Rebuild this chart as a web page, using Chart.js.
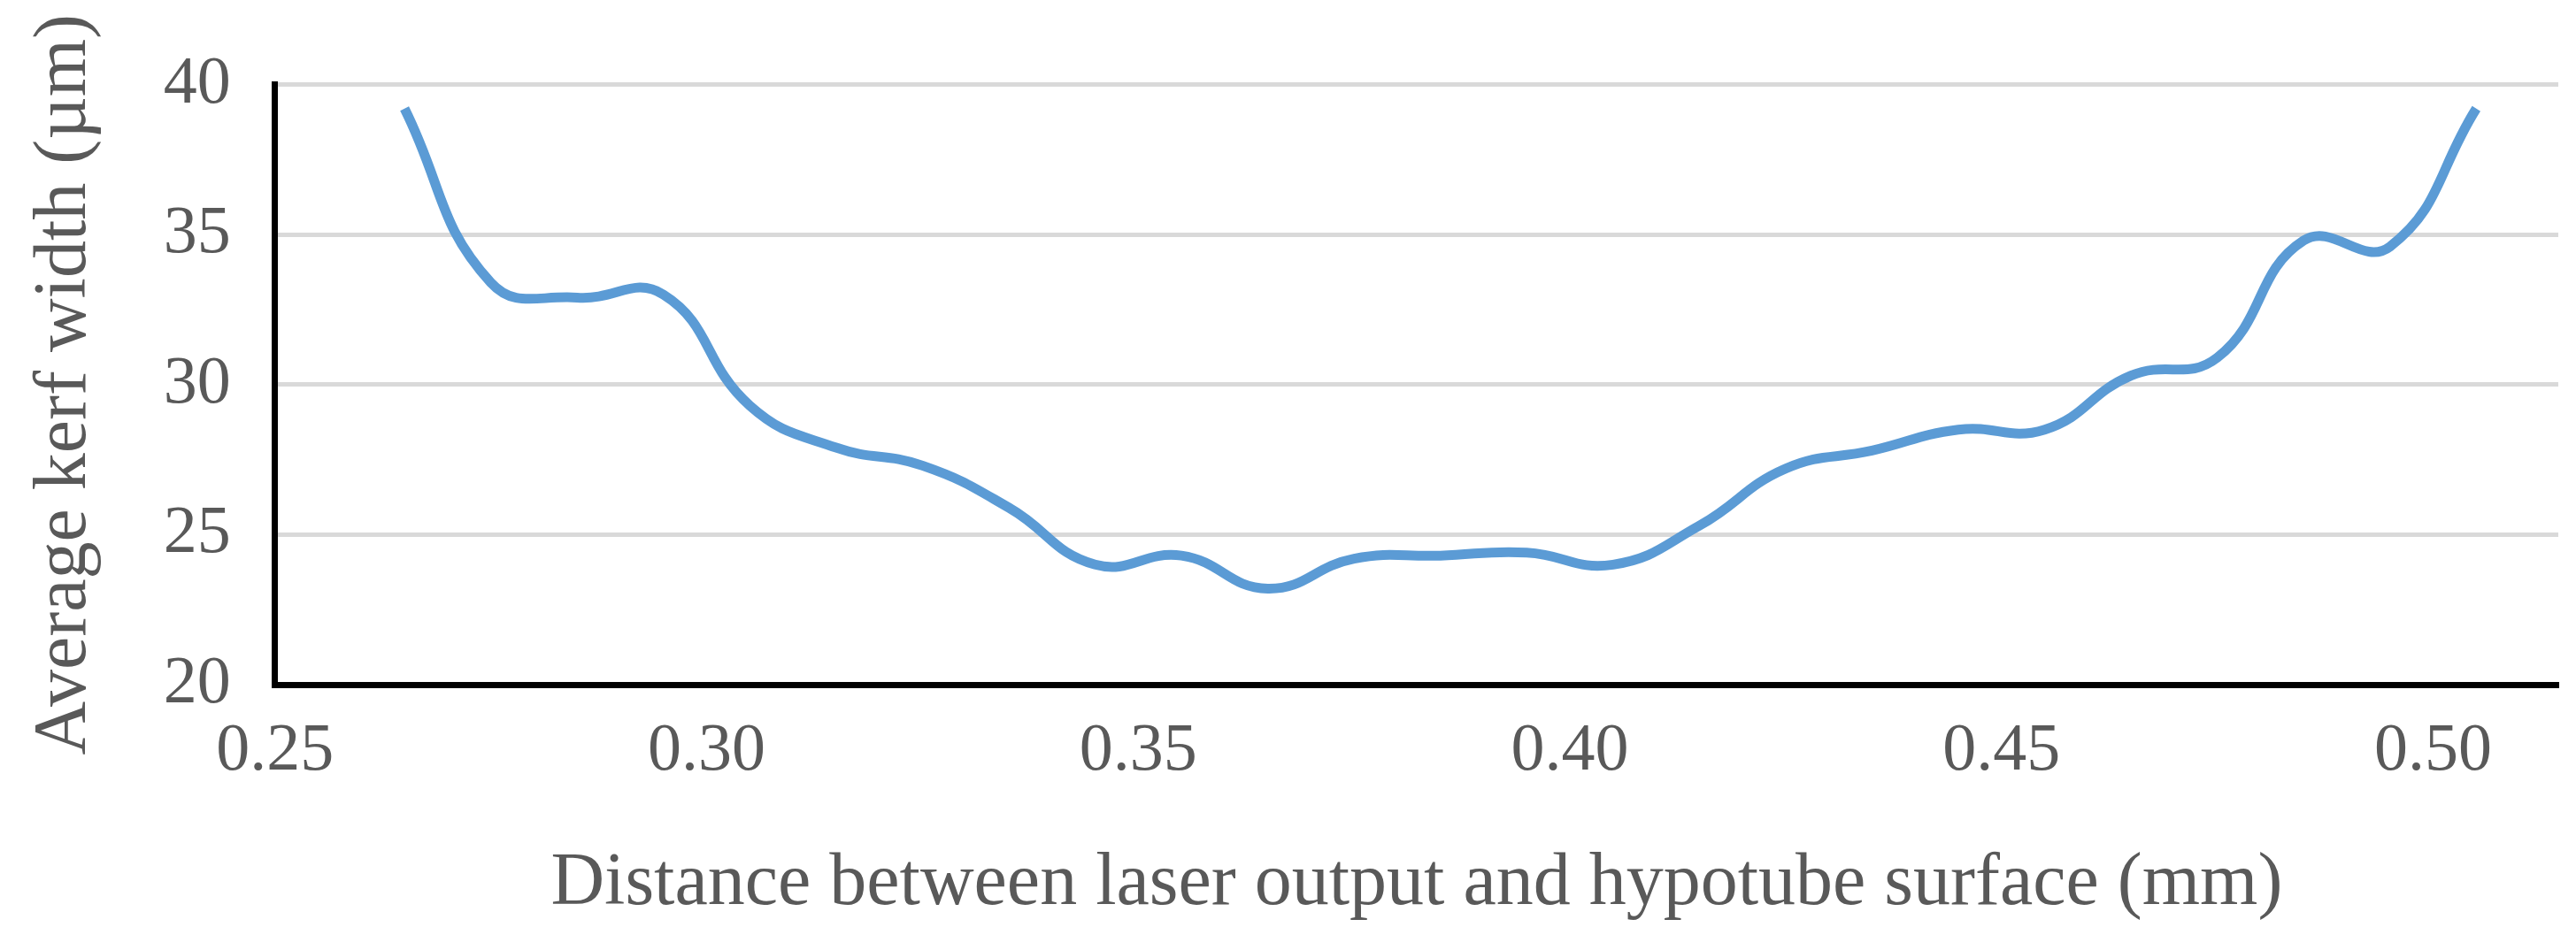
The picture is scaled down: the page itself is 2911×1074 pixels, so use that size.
<!DOCTYPE html>
<html>
<head>
<meta charset="utf-8">
<script src="https://cdn.jsdelivr.net/npm/chart.js@4/dist/chart.umd.min.js"></script>
<style>
html, body { margin: 0; padding: 0; background: #fff; }
#wrap { width: 2911px; height: 1074px; }
</style>
</head>
<body>
<div id="wrap"><canvas id="chartCanvas" width="2911" height="1074"></canvas></div>
<script>
const distances = [0.265, 0.275, 0.285, 0.295, 0.305, 0.315, 0.325, 0.335, 0.345, 0.355, 0.365, 0.375, 0.385,
    0.395, 0.405, 0.415, 0.425, 0.435, 0.445, 0.455, 0.465, 0.475, 0.485, 0.495, 0.505];
const kerfWidths = [39.2, 33.4, 32.9, 33.0, 29.3, 27.9, 27.3, 25.9, 24.0, 24.3, 23.2, 24.2, 24.3,
    24.4, 24.0, 25.3, 27.2, 27.8, 28.5, 28.5, 30.3, 30.9, 34.8, 34.6, 39.2];
const xTicks = [0.25, 0.30, 0.35, 0.40, 0.45, 0.50];

const ctx = document.getElementById("chartCanvas").getContext("2d");
const font = "'Liberation Serif', 'Times New Roman', serif";

new Chart(ctx, {
    type: "line",
    data: {
        datasets: [{
            data: distances.map((d, i) => ({ x: d, y: kerfWidths[i] })),
            borderColor: "#5b9bd5",
            borderWidth: 11,
            pointRadius: 0,
            tension: 0.45,
            fill: false,
        }],
    },
    options: {
        responsive: false,
        devicePixelRatio: 1,
        animation: false,
        layout: { padding: { top: 52, right: 20, left: 20, bottom: 20 } },
        plugins: { legend: { display: false }, tooltip: { enabled: false } },
        scales: {
            x: {
                type: "linear",
                min: 0.25,
                max: 0.5145,
                afterBuildTicks: axis => { axis.ticks = xTicks.map(v => ({ value: v })); },
                grid: { display: false, drawTicks: false },
                border: { color: "#000", width: 7 },
                ticks: { color: "#595959", font: { family: font, size: 76 }, padding: 30,
                    callback: v => v.toFixed(2) },
                title: { display: true, text: "Distance between laser output and hypotube surface (mm)",
                    color: "#595959", font: { family: font, size: 84 }, padding: { top: 24 } },
            },
            y: {
                min: 20,
                max: 40,
                ticks: { stepSize: 5, color: "#595959", font: { family: font, size: 76 }, padding: 50 },
                grid: { color: "#d9d9d9", lineWidth: 5, drawTicks: false },
                border: { color: "#000", width: 7 },
                title: { display: true, text: "Average kerf width (µm)",
                    color: "#595959", font: { family: font, size: 84 }, padding: { bottom: 10 } },
            },
        },
    },
});
</script>
</body>
</html>
